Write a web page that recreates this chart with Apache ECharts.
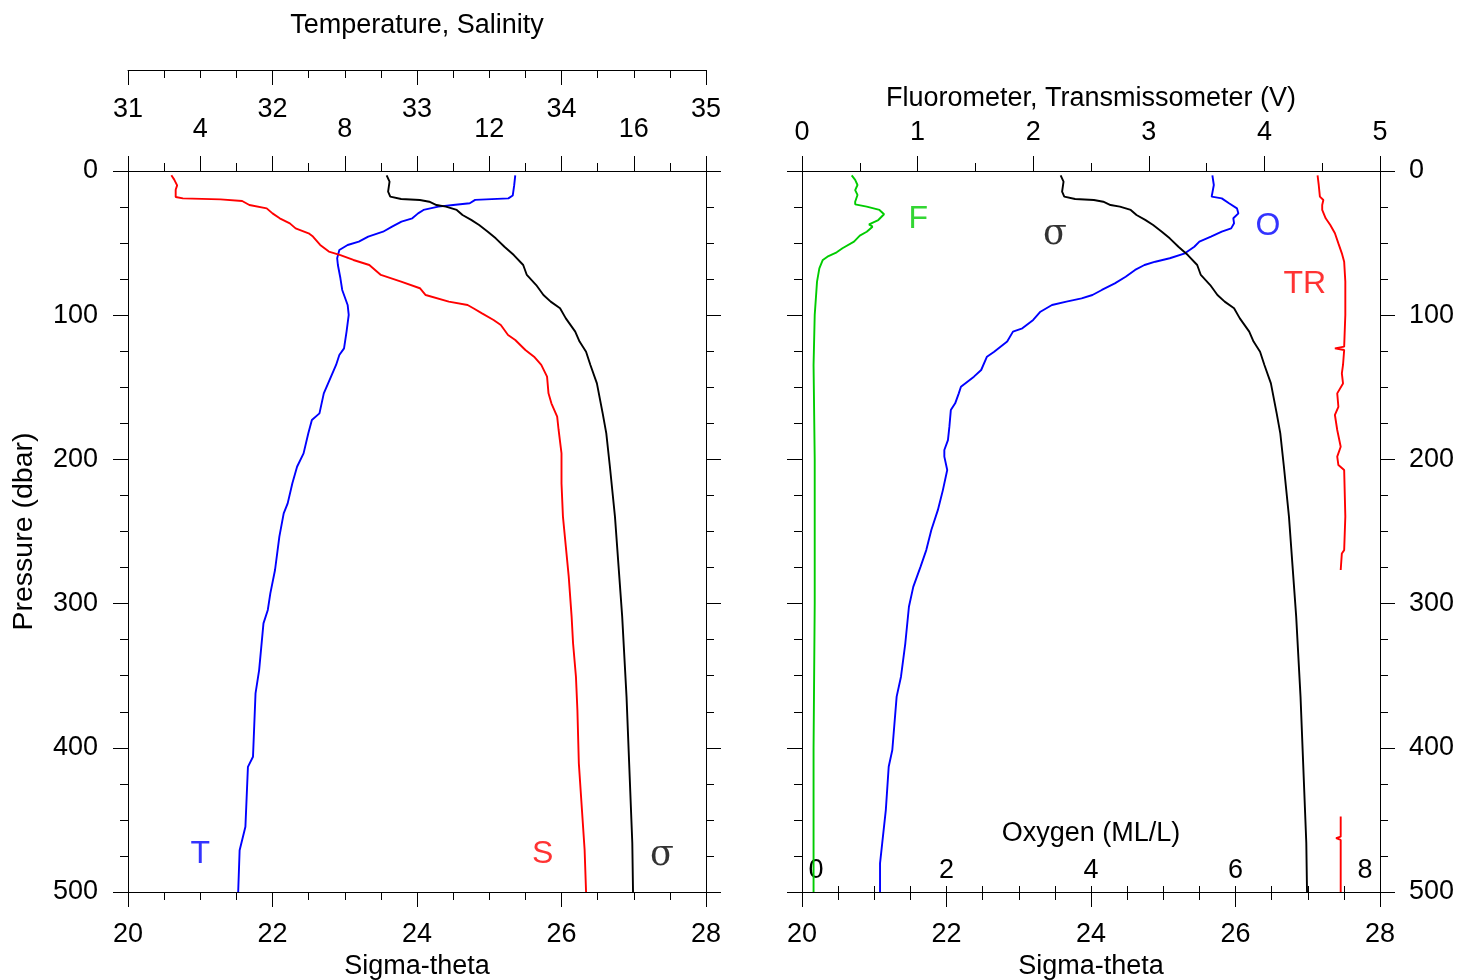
<!DOCTYPE html>
<html><head><meta charset="utf-8">
<script src="https://cdn.jsdelivr.net/npm/echarts@6/dist/echarts.min.js"></script>
<style>html,body{margin:0;padding:0;background:#fff}#c{width:1458px;height:980px}</style>
</head><body><div id="c"></div>
<script>
// ---------------- data ----------------
const tempP = [3, 10, 17, 19, 20, 22.4, 23.6, 24.7, 27, 29.4, 32.8, 35.1, 38.6, 42.1, 45.5, 49, 51.3, 54.8, 60.5, 65.2, 74.4, 82.5, 92.9, 99.8, 111.4, 123, 127.6, 134.5, 142.6, 154.2, 168.1, 172.7, 182, 195.8, 205.1, 216.6, 230.5, 237.4, 253.6, 276.7, 292.9, 304.4, 313.7, 346.1, 362.3, 406.2, 413.2, 454.8, 471, 500];
const tempV = [12.72, 12.69, 12.65, 12.53, 11.61, 11.46, 11.0, 10.59, 10.18, 10.03, 9.87, 9.57, 9.31, 9.06, 8.65, 8.39, 8.08, 7.85, 7.79, 7.81, 7.88, 7.93, 8.08, 8.11, 8.05, 7.98, 7.85, 7.76, 7.62, 7.42, 7.30, 7.09, 6.99, 6.86, 6.68, 6.55, 6.42, 6.31, 6.19, 6.07, 5.94, 5.87, 5.75, 5.63, 5.53, 5.46, 5.32, 5.25, 5.09, 5.05];

const salP = [3, 6, 10, 13, 18, 19, 19.7, 20.8, 23.6, 25.9, 29.4, 32.8, 36.3, 39.8, 43.2, 45.5, 51.3, 55.9, 58.3, 61.7, 65.2, 72.1, 76.7, 81.3, 86, 90.6, 92.9, 95.2, 98.7, 103.3, 106.8, 113.7, 117.2, 124.1, 128.8, 134.5, 142.6, 154.2, 161.1, 170.4, 179.6, 195.8, 216.6, 239.7, 260.5, 281.3, 309, 327.5, 350.7, 373.8, 410.8, 470.9, 500];
const salV = [31.30, 31.32, 31.34, 31.33, 31.33, 31.38, 31.64, 31.79, 31.84, 31.96, 32.00, 32.05, 32.12, 32.16, 32.25, 32.28, 32.33, 32.39, 32.47, 32.56, 32.67, 32.75, 32.89, 33.02, 33.06, 33.22, 33.35, 33.39, 33.45, 33.53, 33.58, 33.63, 33.68, 33.75, 33.81, 33.86, 33.90, 33.91, 33.93, 33.97, 33.98, 34.00, 34.00, 34.01, 34.03, 34.05, 34.07, 34.08, 34.10, 34.11, 34.12, 34.16, 34.17];

const sigP = [3, 7.4, 14.3, 17.8, 19.4, 20.1, 21.3, 23.6, 24.7, 27, 30.5, 33.9, 37.5, 42.1, 46.7, 52.5, 58.3, 65.2, 72.1, 79.1, 86, 90.6, 95.2, 102.2, 111.4, 118.3, 125.3, 134.5, 147.3, 168.1, 182, 205.1, 239.7, 274.4, 309, 364.5, 415.3, 466.2, 500];
const sigV = [23.58, 23.62, 23.60, 23.63, 23.78, 24.04, 24.17, 24.27, 24.40, 24.55, 24.63, 24.75, 24.86, 24.98, 25.09, 25.21, 25.34, 25.47, 25.52, 25.65, 25.75, 25.85, 25.98, 26.06, 26.19, 26.25, 26.34, 26.40, 26.49, 26.57, 26.62, 26.67, 26.74, 26.79, 26.84, 26.90, 26.94, 26.98, 26.99];

const fluP = [3, 6.2, 9.7, 13.2, 16.6, 21.3, 23.1, 24.7, 27, 30, 34, 37, 38.6, 42.1, 44.8, 49, 53.6, 56.4, 59.4, 61.7, 67.5, 76.7, 88.3, 99.8, 134.5, 200, 300, 400, 500];
const fluV = [0.43, 0.46, 0.48, 0.46, 0.48, 0.46, 0.46, 0.56, 0.67, 0.71, 0.66, 0.58, 0.61, 0.56, 0.50, 0.45, 0.35, 0.30, 0.22, 0.18, 0.15, 0.13, 0.12, 0.11, 0.10, 0.11, 0.11, 0.10, 0.10];

const oxyP = [3, 9.7, 17.8, 19, 22.4, 25.9, 29.4, 32.8, 36.3, 39.8, 42.1, 45.5, 49, 52.5, 57.1, 60.5, 62.9, 65.2, 68.6, 73.3, 77.9, 82.5, 86, 88.3, 90.6, 92.9, 97.6, 103.3, 109.1, 111.4, 118.3, 125.3, 128.8, 138, 142.6, 149.6, 154.2, 161.1, 165.8, 177.3, 186.6, 193.5, 198.1, 207.4, 221.3, 235.2, 249, 262.9, 274.5, 288.4, 302.2, 327.5, 350.7, 364.5, 401.5, 413.1, 443.2, 466.3, 480.2, 500];
const oxyV = [5.68, 5.70, 5.67, 5.81, 5.91, 6.02, 6.04, 5.97, 5.98, 5.94, 5.81, 5.66, 5.50, 5.43, 5.30, 5.09, 4.89, 4.74, 4.61, 4.48, 4.33, 4.15, 4.02, 3.87, 3.66, 3.46, 3.30, 3.20, 3.05, 2.92, 2.84, 2.66, 2.56, 2.48, 2.38, 2.20, 2.17, 2.12, 2.06, 2.04, 2.02, 1.97, 1.97, 2.01, 1.95, 1.88, 1.79, 1.72, 1.64, 1.54, 1.48, 1.43, 1.37, 1.31, 1.25, 1.20, 1.16, 1.11, 1.08, 1.08];

const trP = [3, 9.7, 17.8, 20.1, 23.6, 27, 32.8, 37.5, 43.2, 50.2, 57.1, 62.9, 76.7, 99.8, 121.8, 123, 124.1, 134.5, 140.3, 147.3, 154.2, 163.5, 169.2, 179.6, 191.2, 198.1, 203.9, 207.4, 239.7, 262.9, 265.2, 276.7, 350, 447.7, 461.6, 462.7, 463.9, 500];
const trV = [4.46, 4.47, 4.48, 4.51, 4.50, 4.50, 4.53, 4.57, 4.61, 4.64, 4.67, 4.69, 4.70, 4.70, 4.69, 4.61, 4.69, 4.68, 4.67, 4.68, 4.63, 4.64, 4.61, 4.63, 4.66, 4.63, 4.64, 4.69, 4.70, 4.69, 4.67, 4.66, null, 4.66, 4.66, 4.62, 4.66, 4.66];

const tempTickLabels = [4, 8, 12, 16];

// ---------------- chart ----------------
const FONT = '"Liberation Sans", Arial, sans-serif';
const SERIF = '"DejaVu Serif", "Liberation Serif", serif';
const TICK_FS = 27;
const pair = (vals, ps) => vals.map((v, i) => [v === null ? '-' : v, ps[i]]);

function ax(extra, tick, minor, label, nameSize) {
  return Object.assign({
    type: 'value',
    splitLine: { show: false },
    axisLine: { show: true, onZero: false, lineStyle: { color: '#000', width: 1 } },
    axisTick: Object.assign({ show: true, length: 15, lineStyle: { color: '#000', width: 1 } }, tick || {}),
    minorTick: Object.assign({ show: true, length: 8, lineStyle: { color: '#000', width: 1 } }, minor || {}),
    minorSplitLine: { show: false },
    axisLabel: Object.assign({ color: '#000', fontSize: TICK_FS, fontFamily: FONT }, label || {}),
    nameTextStyle: { color: '#000', fontSize: nameSize || 27, fontFamily: FONT },
    nameMoveOverlap: false
  }, extra);
}

const line = (name, data, xi, yi, color) => ({
  name, type: 'line', data, xAxisIndex: xi, yAxisIndex: yi,
  showSymbol: false, symbol: 'none', connectNulls: false, silent: true,
  lineStyle: { color, width: 1.9 }, z: 3
});

const tag = (text, x, p, xi, yi, color, family, size) => ({
  type: 'scatter', xAxisIndex: xi, yAxisIndex: yi, silent: true,
  symbolSize: 0, data: [[x, p]],
  label: { show: true, position: 'inside', formatter: text, color, fontSize: size, fontFamily: family }
});

const chart = echarts.init(document.getElementById('c'), null, { renderer: 'canvas' });
chart.setOption({
  animation: false,
  backgroundColor: '#fff',
  grid: [
    { left: 128, top: 171, width: 578, height: 721, outerBoundsMode: 'none', containLabel: false },
    { left: 802, top: 171, width: 578, height: 721, outerBoundsMode: 'none', containLabel: false }
  ],
  xAxis: [
    ax({ gridIndex: 0, position: 'bottom', min: 20, max: 28, interval: 2,
         name: 'Sigma-theta', nameLocation: 'middle', nameGap: 61 },
       null, { splitNumber: 4 }, { margin: 29 }),
    ax({ gridIndex: 0, position: 'top', min: 2, max: 18, interval: 2 },
       null, { splitNumber: 2 },
       { margin: 28, formatter: v => tempTickLabels.includes(v) ? String(v) : '' }),
    ax({ gridIndex: 0, position: 'top', offset: 101, min: 31, max: 35, interval: 1,
         name: 'Temperature, Salinity', nameLocation: 'middle', nameGap: 31 },
       { inside: true }, { splitNumber: 4 }, { inside: true, margin: 26 }),
    ax({ gridIndex: 1, position: 'bottom', min: 20, max: 28, interval: 2,
         name: 'Sigma-theta', nameLocation: 'middle', nameGap: 61 },
       null, { splitNumber: 4 }, { margin: 29 }),
    ax({ gridIndex: 1, position: 'top', min: 0, max: 5, interval: 1,
         name: 'Fluorometer, Transmissometer (V)', nameLocation: 'middle', nameGap: 59 },
       null, { splitNumber: 2 }, { margin: 25 }),
    ax({ gridIndex: 1, position: 'bottom', min: 0, max: 8, interval: 2,
         name: 'Oxygen (ML/L)', nameLocation: 'middle', nameGap: -72 },
       { inside: true, length: 6 }, { splitNumber: 4, length: 6 },
       { inside: true, margin: 8,
         formatter: v => v === 0 ? '{a|0}' : (v === 8 ? '{b|8}' : String(v)),
         rich: { a: { fontSize: TICK_FS, fontFamily: FONT, color: '#000', padding: [0, 0, 0, 28] },
                 b: { fontSize: TICK_FS, fontFamily: FONT, color: '#000', padding: [0, 30, 0, 0] } } })
  ],
  yAxis: [
    ax({ gridIndex: 0, position: 'left', inverse: true, min: 0, max: 500, interval: 100,
         name: 'Pressure (dbar)', nameLocation: 'middle', nameRotate: 90, nameGap: 89 },
       null, { splitNumber: 4 }, { margin: 30 }, 28.5),
    ax({ gridIndex: 0, position: 'right', inverse: true, min: 0, max: 500, interval: 100 },
       null, { splitNumber: 4 }, { show: false }),
    ax({ gridIndex: 1, position: 'left', inverse: true, min: 0, max: 500, interval: 100 },
       null, { splitNumber: 4 }, { show: false }),
    ax({ gridIndex: 1, position: 'right', inverse: true, min: 0, max: 500, interval: 100 },
       null, { splitNumber: 4 }, { margin: 29 })
  ],
  series: [
    line('T', pair(tempV, tempP), 1, 0, '#0000ff'),
    line('S', pair(salV, salP), 2, 0, '#ff0000'),
    line('sigma-left', pair(sigV, sigP), 0, 0, '#000000'),
    line('F', pair(fluV, fluP), 4, 2, '#00cc00'),
    line('TR', pair(trV, trP), 4, 2, '#ff0000'),
    line('O', pair(oxyV, oxyP), 5, 2, '#0000ff'),
    line('sigma-right', pair(sigV, sigP), 3, 2, '#000000'),
    tag('T', 21.0, 474, 0, 0, '#0000ff', FONT, 32),
    tag('S', 25.74, 474, 0, 0, '#ff0000', FONT, 32),
    tag('σ', 27.39, 475, 0, 0, '#000000', SERIF, 35),
    tag('F', 21.61, 33.5, 3, 2, '#00cc00', FONT, 32),
    tag('σ', 23.50, 44, 3, 2, '#000000', SERIF, 35),
    tag('O', 26.45, 38.5, 3, 2, '#0000ff', FONT, 32),
    tag('TR', 26.96, 78.5, 3, 2, '#ff0000', FONT, 32)
  ]
});
</script>
</body></html>
